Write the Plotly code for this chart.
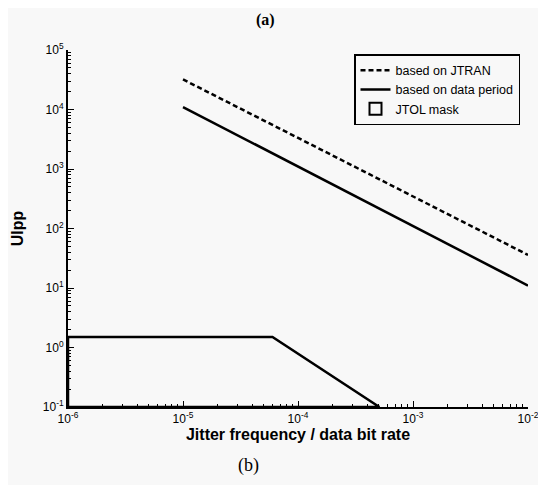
import plotly.graph_objects as go

# Data
freq = [1e-5, 1e-4, 1e-3, 1e-2]
jtran = [32000, 3300, 345, 36]
data_period = [11000, 1100, 112, 11]
mask_x = [1e-6, 1e-6, 6e-5, 5.1e-4, 1e-6]
mask_y = [0.1, 1.5, 1.5, 0.1, 0.1]

x_decades = [-6, -5, -4, -3, -2]
y_decades = [-1, 0, 1, 2, 3, 4, 5]
x_tickvals = [10.0 ** d for d in x_decades]
x_ticktext = ["10<sup>%d</sup>" % d for d in x_decades]
y_tickvals = [10.0 ** d for d in y_decades]
y_ticktext = ["10<sup>%d</sup>" % d for d in y_decades]
x_minor = [m * 10.0 ** d for d in x_decades[:-1] for m in range(2, 10)]
y_minor = [m * 10.0 ** d for d in y_decades[:-1] for m in range(2, 10)]

BG = "#f8f8f8"
SANS = "Liberation Sans, Arial, sans-serif"
SERIF = "Liberation Serif, Times New Roman, serif"

# page has an 8px body margin; figure size compensates
W, H = 538, 477
L, R, T, B = 60, 18, 42, 78
pw, ph = W - L - R, H - T - B

fig = go.Figure()
fig.add_trace(go.Scatter(x=freq, y=jtran, mode="lines", name="based on JTRAN",
                         line=dict(color="black", width=2.5, dash="5px,3px")))
fig.add_trace(go.Scatter(x=freq, y=data_period, mode="lines", name="based on data period",
                         line=dict(color="black", width=2.5)))
fig.add_trace(go.Scatter(x=mask_x, y=mask_y, mode="lines", name="JTOL mask", showlegend=False,
                         cliponaxis=False, line=dict(color="black", width=2.5)))
# legend entry for the mask (rectangle symbol)
fig.add_trace(go.Bar(x=[None], y=[None], name="JTOL mask",
                     marker=dict(color=BG, line=dict(color="black", width=2))))

axis_font = dict(family=SANS, size=12, color="black")


def px_x(p):
    return (p - L) / pw


def px_y(p):
    return (H - B - p) / ph


fig.update_layout(
    width=W, height=H,
    paper_bgcolor=BG, plot_bgcolor=BG,
    margin=dict(l=L, r=R, t=T, b=B),
    showlegend=True,
    legend=dict(x=px_x(512), y=px_y(46), xanchor="right", yanchor="top",
                bgcolor=BG, bordercolor="black", borderwidth=1.5,
                font=dict(family=SANS, size=12.5, color="black"),
                tracegroupgap=0, itemwidth=30),
    annotations=[
        dict(text="<b>(a)</b>", x=px_x(257), y=px_y(12), xref="paper", yref="paper",
             showarrow=False, font=dict(family=SERIF, size=16, color="black"),
             xanchor="center", yanchor="middle"),
        dict(text="(b)", x=px_x(240), y=px_y(457), xref="paper", yref="paper",
             showarrow=False, font=dict(family=SERIF, size=18, color="black"),
             xanchor="center", yanchor="middle"),
    ],
)

fig.update_xaxes(type="log", range=[-6, -2], tickvals=x_tickvals, ticktext=x_ticktext,
                 ticks="inside", ticklen=6, tickcolor="black", showgrid=False, zeroline=False,
                 showline=True, linecolor="black", linewidth=2, mirror=False, automargin="bottom",
                 minor=dict(tickmode="array", tickvals=x_minor, ticks="inside", ticklen=3,
                            tickcolor="black", showgrid=False),
                 tickfont=axis_font,
                 title=dict(text="<b>Jitter frequency / data bit rate</b>", standoff=3,
                            font=dict(family=SANS, size=16, color="black")))
fig.update_yaxes(type="log", range=[-1, 5], tickvals=y_tickvals, ticktext=y_ticktext,
                 ticks="inside", ticklen=6, tickcolor="black", showgrid=False, zeroline=False,
                 showline=True, linecolor="black", linewidth=2, mirror=False, automargin=False,
                 minor=dict(tickmode="array", tickvals=y_minor, ticks="inside", ticklen=3,
                            tickcolor="black", showgrid=False),
                 tickfont=axis_font,
                 title=dict(text="<b>UIpp</b>",
                            font=dict(family=SANS, size=16, color="black")))

fig.write_html("out.html")
